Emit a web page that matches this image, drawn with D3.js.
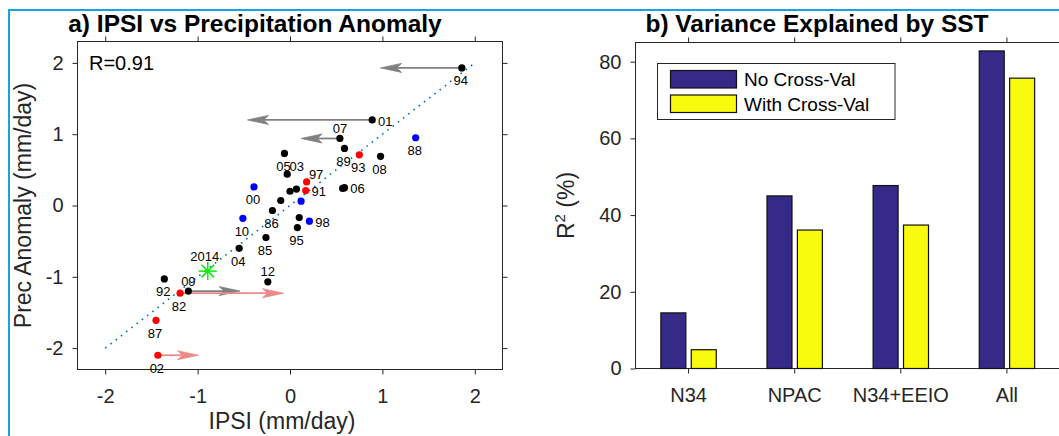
<!DOCTYPE html>
<html>
<head>
<meta charset="utf-8">
<script src="https://cdn.jsdelivr.net/npm/d3@7"></script>
<style>
  body { margin: 0; background: #fff; }
  svg { display: block; font-family: "Liberation Sans", Arial, Helvetica, sans-serif; }
</style>
</head>
<body>
<div id="chart"></div>
<script>
// ---- panel a data (IPSI vs precipitation anomaly, mm/day) ----
var years  = ["94","01","07","88","89","93","08","05","03","97","91","06","","","","00","","","86","10","","98","95","85","04","92","12","09","82","87","02"];
var ipsi   = [1.86, 0.89, 0.54, 1.36, 0.59, 0.75, 0.98, -0.06, -0.03, 0.18, 0.17, 0.59, 0.57, 0.00, 0.07, -0.39, -0.10, 0.12, -0.19, -0.51, 0.10, 0.21, 0.08, -0.26, -0.55, -1.36, -0.24, -1.10, -1.19, -1.45, -1.43];
var precip = [1.93, 1.20, 0.94, 0.95, 0.80, 0.71, 0.69, 0.73, 0.44, 0.33, 0.21, 0.25, 0.24, 0.20, 0.23, 0.26, 0.07, 0.06, -0.07, -0.18, -0.17, -0.22, -0.31, -0.45, -0.60, -1.03, -1.07, -1.20, -1.23, -1.61, -2.10];
var kind   = ["k","k","k","b","k","r","k","k","k","r","r","k","k","k","k","b","k","b","k","b","k","b","k","k","k","k","k","k","r","r","r"];

var star2014 = {label: "2014", ipsi: -0.89, precip: -0.92};

// arrows: start year, IPSI value at the arrow tip, colour group
var arrowYears = ["94","01","07","09","82","02"];
var arrowTo    = [0.98, -0.46, 0.12, -0.54, -0.07, -0.99];
var arrowKind  = ["g","g","g","g","p","p"];

var fitX = [-2, 2];
var fitY = [-2, 2];
var rText = "R=0.91";

var xTicksA = [-2, -1, 0, 1, 2];
var yTicksA = [-2, -1, 0, 1, 2];

// ---- panel b data (variance explained, %) ----
var categories = ["N34", "NPAC", "N34+EEIO", "All"];
var noCrossVal   = [14.5, 45.0, 47.7, 82.8];
var withCrossVal = [4.9, 36.1, 37.4, 75.7];
var seriesNames  = ["No Cross-Val", "With Cross-Val"];
var yTicksB = [0, 20, 40, 60, 80];

// label placement codes, kept apart from the data
var labelPlace = ["b","r","a","b","b","b","b","b","ar","ar","r","r","","","","b","","","b","b","","r","b","b","b","b","a","a","b","b","b"];

var W = 1059, H = 436;
var axisColor = "#262626";
var dotColor = {k: "#000000", r: "#ff0000", b: "#0000ff"};
var arrowColor = {g: "#808080", p: "#ec8a8a"};
var barColor = ["#352a87", "#f9fb0e"];
var placeOffset = {
  b:  [-1, 17.5],
  a:  [0, -5.5],
  r:  [13, 5.8],
  ar: [9.5, -3]
};

var svg = d3.select("#chart").append("svg")
  .attr("width", W)
  .attr("height", H);

// cyan frame lines along top and left
svg.append("line")
  .attr("x1", 8).attr("x2", W).attr("y1", 10).attr("y2", 10)
  .style("stroke", "#14a4e6").style("stroke-width", 2);
svg.append("line")
  .attr("x1", 9).attr("x2", 9).attr("y1", 9).attr("y2", H)
  .style("stroke", "#14a4e6").style("stroke-width", 2);

function styleAxis(g) {
  g.select(".domain").remove();
  g.selectAll("line").style("stroke", axisColor);
  g.selectAll("text")
    .style("font-size", "20px")
    .style("fill", axisColor)
    .style("font-family", "'Liberation Sans', Arial, Helvetica, sans-serif");
}

function drawBox(g, x0, x1, y0, y1) {
  g.append("rect")
    .attr("x", x0).attr("y", y0)
    .attr("width", x1 - x0).attr("height", y1 - y0)
    .style("fill", "none")
    .style("stroke", axisColor)
    .style("stroke-width", 1);
}

function numFmt(d) { return String(d); }

// ================= panel a =================
var xA = d3.scaleLinear().domain([-2.3, 2.3]).range([77.5, 502.5]);
var yA = d3.scaleLinear().domain([-2.3, 2.3]).range([369.5, 41.5]);
var pa = svg.append("g");

pa.append("g").attr("transform", "translate(0," + yA.range()[0] + ")")
  .call(d3.axisBottom(xA).tickValues(xTicksA).tickSize(5).tickSizeOuter(0).tickPadding(14).tickFormat(numFmt))
  .call(styleAxis);
pa.append("g").attr("transform", "translate(0," + yA.range()[1] + ")")
  .call(d3.axisTop(xA).tickValues(xTicksA).tickSize(5).tickSizeOuter(0).tickFormat(""))
  .call(styleAxis);
pa.append("g").attr("transform", "translate(" + xA.range()[0] + ",0)")
  .call(d3.axisLeft(yA).tickValues(yTicksA).tickSize(5).tickSizeOuter(0).tickPadding(9).tickFormat(numFmt))
  .call(styleAxis);
pa.append("g").attr("transform", "translate(" + xA.range()[1] + ",0)")
  .call(d3.axisRight(yA).tickValues(yTicksA).tickSize(5).tickSizeOuter(0).tickFormat(""))
  .call(styleAxis);
drawBox(pa, xA.range()[0], xA.range()[1], yA.range()[1], yA.range()[0]);

// dotted 1:1 fit line
pa.append("path")
  .datum(d3.zip(fitX, fitY))
  .attr("d", d3.line().x(function(d){ return xA(d[0]); }).y(function(d){ return yA(d[1]); }))
  .style("fill", "none")
  .style("stroke", "#0072bd")
  .style("stroke-width", 1.6)
  .style("stroke-dasharray", "1.6,5");

// arrows
arrowYears.forEach(function(yr, i) {
  var j = years.indexOf(yr);
  var x0 = xA(ipsi[j]), x1 = xA(arrowTo[i]), y = yA(precip[j]);
  var dir = x1 < x0 ? 1 : -1;
  var c = arrowColor[arrowKind[i]];
  pa.append("line")
    .attr("x1", x0).attr("x2", x1 + dir * 12).attr("y1", y).attr("y2", y)
    .style("stroke", c).style("stroke-width", 1.8);
  pa.append("path")
    .attr("d", "M" + x1 + "," + y +
               "L" + (x1 + dir * 21) + "," + (y - 4.5) +
               "L" + (x1 + dir * 16) + "," + y +
               "L" + (x1 + dir * 21) + "," + (y + 4.5) + "Z")
    .style("fill", c).style("stroke", c).style("stroke-width", 0.8);
});

// dots
pa.selectAll("circle.pt")
  .data(d3.range(years.length))
  .enter().append("circle")
  .attr("class", "pt")
  .attr("cx", function(i){ return xA(ipsi[i]); })
  .attr("cy", function(i){ return yA(precip[i]); })
  .attr("r", 3.6)
  .style("fill", function(i){ return dotColor[kind[i]]; });

// year labels
pa.selectAll("text.yr")
  .data(d3.range(years.length).filter(function(i){ return years[i] !== ""; }))
  .enter().append("text")
  .attr("class", "yr")
  .attr("x", function(i){ return xA(ipsi[i]) + placeOffset[labelPlace[i]][0]; })
  .attr("y", function(i){ return yA(precip[i]) + placeOffset[labelPlace[i]][1]; })
  .attr("text-anchor", "middle")
  .style("font-size", "13px")
  .style("fill", "#000")
  .text(function(i){ return years[i]; });

// 2014 asterisk
var sx = xA(star2014.ipsi), sy = yA(star2014.precip), s = 9;
[[-s, 0, s, 0], [0, -s, 0, s], [-s*0.7, -s*0.7, s*0.7, s*0.7], [-s*0.7, s*0.7, s*0.7, -s*0.7]].forEach(function(l) {
  pa.append("line")
    .attr("x1", sx + l[0]).attr("y1", sy + l[1])
    .attr("x2", sx + l[2]).attr("y2", sy + l[3])
    .style("stroke", "#00ee00").style("stroke-width", 1.5);
});
pa.append("text")
  .attr("x", sx - 3).attr("y", sy - 10)
  .attr("text-anchor", "middle")
  .style("font-size", "13px")
  .text(star2014.label);

pa.append("text")
  .attr("x", 89).attr("y", 70)
  .style("font-size", "20px").style("fill", "#000")
  .text(rText);

pa.append("text")
  .attr("x", 255).attr("y", 32)
  .attr("text-anchor", "middle")
  .style("font-size", "24.5px").style("font-weight", "bold").style("fill", "#000")
  .text("a) IPSI vs Precipitation Anomaly");

pa.append("text")
  .attr("x", 282).attr("y", 429)
  .attr("text-anchor", "middle")
  .style("font-size", "23px").style("fill", axisColor)
  .text("IPSI (mm/day)");

pa.append("text")
  .attr("transform", "translate(31," + ((yA.range()[0] + yA.range()[1]) / 2) + ") rotate(-90)")
  .attr("text-anchor", "middle")
  .style("font-size", "23px").style("fill", axisColor)
  .text("Prec Anomaly (mm/day)");

// ================= panel b =================
var xB = d3.scaleBand().domain(categories).range([635.5, 1060]).padding(0);
var xSub = d3.scaleBand().domain(seriesNames)
  .range([-xB.bandwidth() * 0.261, xB.bandwidth() * 0.261]).paddingInner(0.178);
var yB = d3.scaleLinear().domain([0, 85]).range([368.5, 42.5]);
var pb = svg.append("g");

pb.append("g").attr("transform", "translate(0," + yB.range()[0] + ")")
  .call(d3.axisBottom(xB).tickSize(5).tickSizeOuter(0).tickPadding(14))
  .call(styleAxis);
pb.append("g").attr("transform", "translate(0," + yB.range()[1] + ")")
  .call(d3.axisTop(xB).tickSize(5).tickSizeOuter(0).tickFormat(""))
  .call(styleAxis);
pb.append("g").attr("transform", "translate(" + xB.range()[0] + ",0)")
  .call(d3.axisLeft(yB).tickValues(yTicksB).tickSize(5).tickSizeOuter(0).tickPadding(9).tickFormat(numFmt))
  .call(styleAxis);
drawBox(pb, xB.range()[0], xB.range()[1], yB.range()[1], yB.range()[0]);

var barData = [];
categories.forEach(function(c, i) {
  barData.push({cat: c, s: 0, v: noCrossVal[i]});
  barData.push({cat: c, s: 1, v: withCrossVal[i]});
});

pb.selectAll("rect.bar")
  .data(barData)
  .enter().append("rect")
  .attr("class", "bar")
  .attr("x", function(d){ return xB(d.cat) + xB.bandwidth() / 2 + xSub(seriesNames[d.s]); })
  .attr("y", function(d){ return yB(d.v); })
  .attr("width", xSub.bandwidth())
  .attr("height", function(d){ return yB(0) - yB(d.v); })
  .style("fill", function(d){ return barColor[d.s]; })
  .style("stroke", "#111")
  .style("stroke-width", 1.2);

// legend
var lg = pb.append("g");
lg.append("rect")
  .attr("x", 657.5).attr("y", 63.5).attr("width", 237.5).attr("height", 56)
  .style("fill", "#fff").style("stroke", axisColor).style("stroke-width", 1);
seriesNames.forEach(function(name, i) {
  lg.append("rect")
    .attr("x", 670.5).attr("y", 70.5 + i * 24.5)
    .attr("width", 66).attr("height", 17.5)
    .style("fill", barColor[i]).style("stroke", "#111").style("stroke-width", 1.2);
  lg.append("text")
    .attr("x", 744).attr("y", 86 + i * 24.5)
    .style("font-size", "19px").style("fill", "#000")
    .text(name);
});

pb.append("text")
  .attr("x", 817).attr("y", 32)
  .attr("text-anchor", "middle")
  .style("font-size", "24.5px").style("font-weight", "bold").style("fill", "#000")
  .text("b) Variance Explained by SST");

var rl = pb.append("text")
  .attr("transform", "translate(574," + ((yB.range()[0] + yB.range()[1]) / 2) + ") rotate(-90)")
  .attr("text-anchor", "middle")
  .style("font-size", "23px").style("fill", axisColor);
rl.append("tspan").text("R");
rl.append("tspan").attr("dy", -9).style("font-size", "15px").text("2");
rl.append("tspan").attr("dy", 9).text(" (%)");
</script>
</body>
</html>
